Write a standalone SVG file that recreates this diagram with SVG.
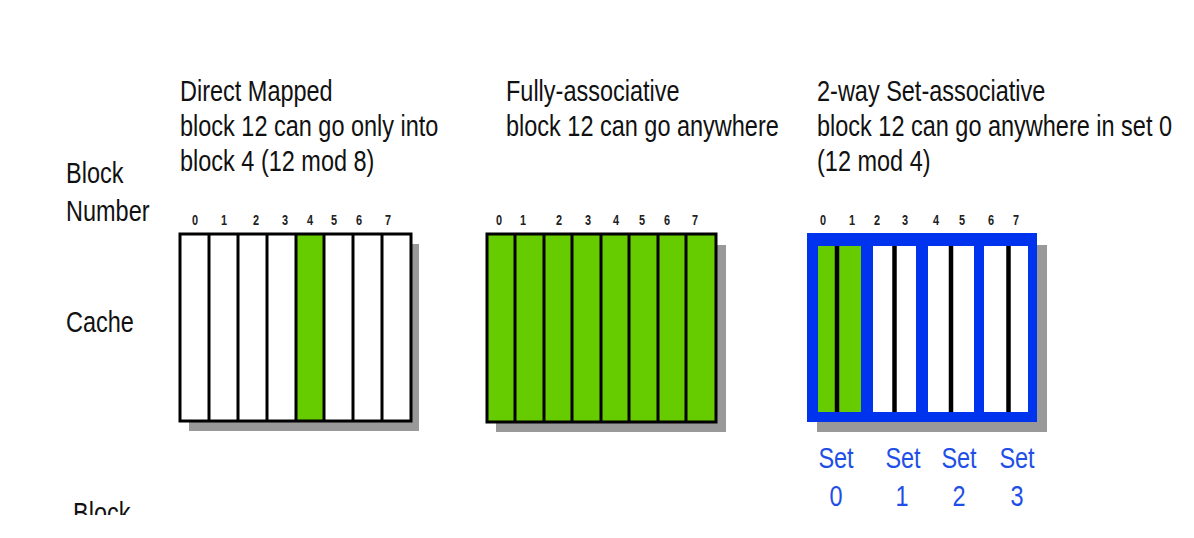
<svg xmlns="http://www.w3.org/2000/svg" width="1194" height="538" viewBox="0 0 1194 538">
<style>
.t{font-family:"Liberation Sans",Arial,sans-serif;font-size:29px;fill:#111}
.n{font-family:"Liberation Sans",Arial,sans-serif;font-size:14px;font-weight:bold;fill:#222;text-anchor:middle}
.s{font-family:"Liberation Sans",Arial,sans-serif;font-size:29px;fill:#1f4fe6;text-anchor:middle}
.shadow{fill:#999}
.g{fill:#66cc00}
.w{fill:#fff}
.frame{fill:none;stroke:#000;stroke-width:3}
.div{stroke:#000;stroke-width:3}
</style>
<defs>
<clipPath id="clipb"><rect x="-100" y="-100" width="300" height="92"/></clipPath>
</defs>
<rect width="1194" height="538" fill="#fff"/>
<g id="labels">
<text class="t" transform="translate(66,183) scale(0.81,1)">Block</text>
<text class="t" transform="translate(66,221) scale(0.81,1)">Number</text>
<text class="t" transform="translate(66,332) scale(0.81,1)">Cache</text>
<text class="t" transform="translate(73,523) scale(0.81,1)" clip-path="url(#clipb)">Block</text>
</g>
<g id="direct-mapped">
<text class="t" transform="translate(180,101) scale(0.81,1)">Direct Mapped</text>
<text class="t" transform="translate(180,136) scale(0.81,1)">block 12 can go only into</text>
<text class="t" transform="translate(180,171) scale(0.81,1)">block 4 (12 mod 8)</text>
<g>
<text class="n" transform="translate(195,225) scale(0.78,1)">0</text><text class="n" transform="translate(224,225) scale(0.78,1)">1</text><text class="n" transform="translate(256,225) scale(0.78,1)">2</text><text class="n" transform="translate(285,225) scale(0.78,1)">3</text><text class="n" transform="translate(310,225) scale(0.78,1)">4</text><text class="n" transform="translate(334,225) scale(0.78,1)">5</text><text class="n" transform="translate(359,225) scale(0.78,1)">6</text><text class="n" transform="translate(388,225) scale(0.78,1)">7</text>
</g>
<rect class="shadow" x="189" y="244" width="230" height="187"/>
<rect class="w" x="180" y="234" width="231" height="187"/>
<rect class="g" x="296" y="234" width="28" height="187"/>
<g class="div">
<line x1="209" y1="234" x2="209" y2="421"/><line x1="238" y1="234" x2="238" y2="421"/><line x1="267" y1="234" x2="267" y2="421"/><line x1="296" y1="234" x2="296" y2="421"/><line x1="324" y1="234" x2="324" y2="421"/><line x1="353" y1="234" x2="353" y2="421"/><line x1="382" y1="234" x2="382" y2="421"/>
</g>
<rect class="frame" x="180" y="234" width="231" height="187"/>
</g>
<g id="fully-associative">
<text class="t" transform="translate(506,101) scale(0.81,1)">Fully-associative</text>
<text class="t" transform="translate(506,136) scale(0.81,1)">block 12 can go anywhere</text>
<g>
<text class="n" transform="translate(499,225) scale(0.78,1)">0</text><text class="n" transform="translate(523,225) scale(0.78,1)">1</text><text class="n" transform="translate(559,225) scale(0.78,1)">2</text><text class="n" transform="translate(588,225) scale(0.78,1)">3</text><text class="n" transform="translate(616,225) scale(0.78,1)">4</text><text class="n" transform="translate(642,225) scale(0.78,1)">5</text><text class="n" transform="translate(667,225) scale(0.78,1)">6</text><text class="n" transform="translate(695,225) scale(0.78,1)">7</text>
</g>
<rect class="shadow" x="496" y="245" width="230" height="187"/>
<rect class="g" x="487" y="234" width="229" height="188"/>
<g class="div">
<line x1="515" y1="234" x2="515" y2="422"/><line x1="544" y1="234" x2="544" y2="422"/><line x1="572" y1="234" x2="572" y2="422"/><line x1="601" y1="234" x2="601" y2="422"/><line x1="629" y1="234" x2="629" y2="422"/><line x1="658" y1="234" x2="658" y2="422"/><line x1="686" y1="234" x2="686" y2="422"/>
</g>
<rect class="frame" x="487" y="234" width="229" height="188"/>
</g>
<g id="set-associative">
<text class="t" transform="translate(817,101) scale(0.81,1)">2-way Set-associative</text>
<text class="t" transform="translate(817,136) scale(0.81,1)">block 12 can go anywhere in set 0</text>
<text class="t" transform="translate(817,171) scale(0.81,1)">(12 mod 4)</text>
<g>
<text class="n" transform="translate(823,225) scale(0.78,1)">0</text><text class="n" transform="translate(852,225) scale(0.78,1)">1</text><text class="n" transform="translate(877,225) scale(0.78,1)">2</text><text class="n" transform="translate(905,225) scale(0.78,1)">3</text><text class="n" transform="translate(936,225) scale(0.78,1)">4</text><text class="n" transform="translate(962,225) scale(0.78,1)">5</text><text class="n" transform="translate(991,225) scale(0.78,1)">6</text><text class="n" transform="translate(1016,225) scale(0.78,1)">7</text>
</g>
<rect class="shadow" x="817" y="245" width="230" height="187"/>
<rect fill="#0033ee" x="807" y="233" width="230" height="189"/>
<rect class="g" x="818" y="246" width="43" height="166"/>
<rect class="w" x="873" y="246" width="43" height="166"/>
<rect class="w" x="928" y="246" width="46" height="166"/>
<rect class="w" x="984" y="246" width="44" height="166"/>
<g stroke="#000" stroke-width="4.5">
<line x1="837" y1="246" x2="837" y2="412"/><line x1="894.5" y1="246" x2="894.5" y2="412"/><line x1="951" y1="246" x2="951" y2="412"/><line x1="1008.5" y1="246" x2="1008.5" y2="412"/>
</g>
<text class="s" transform="translate(836,468) scale(0.81,1)">Set</text><text class="s" transform="translate(903,468) scale(0.81,1)">Set</text><text class="s" transform="translate(959,468) scale(0.81,1)">Set</text><text class="s" transform="translate(1017,468) scale(0.81,1)">Set</text>
<text class="s" transform="translate(836,506) scale(0.81,1)">0</text><text class="s" transform="translate(902,506) scale(0.81,1)">1</text><text class="s" transform="translate(959,506) scale(0.81,1)">2</text><text class="s" transform="translate(1017,506) scale(0.81,1)">3</text>
</g>
</svg>
